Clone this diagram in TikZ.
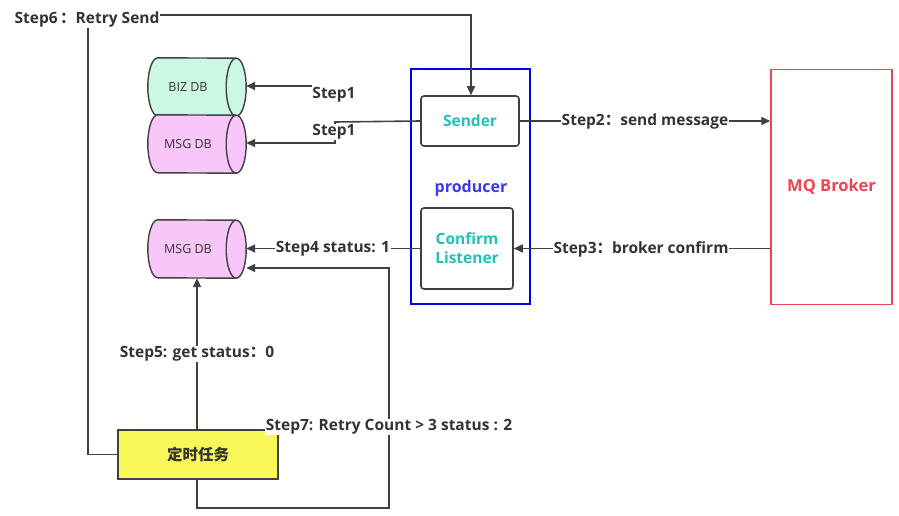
\documentclass[tikz,border=0pt]{standalone}
\usepackage{fontspec}
\setmainfont{Open Sans}
\newfontfamily\cjk{Noto Sans CJK SC}
\newcommand{\fc}{{\cjk ：}}
\usetikzlibrary{arrows.meta}
\definecolor{ln}{HTML}{404040}
\definecolor{txt}{HTML}{333333}
\definecolor{teal}{HTML}{1CC3B6}
\definecolor{mint}{HTML}{CCF7E2}
\definecolor{pinkdb}{HTML}{F8C6F8}
\definecolor{prodblue}{HTML}{0000F0}
\definecolor{prodtxt}{HTML}{3A3AE8}
\definecolor{brk}{HTML}{F04452}
\definecolor{yel}{HTML}{F8F85A}
\tikzset{
  conn/.style={draw=ln, line width=1.6pt, -{Triangle[length=9pt,width=8pt]}},
  lab/.style={fill=white, inner sep=1pt, text=txt, font=\fontsize{15.5}{17}\selectfont\bfseries},
  dbn/.style={rectangle, minimum width=98pt, minimum height=58pt, inner sep=0pt},
  dbt/.style={text=txt, font=\fontsize{12.5}{14}\selectfont},
  boxn/.style={draw=ln, line width=1.6pt, rounded corners=3pt, fill=white, text=teal, font=\fontsize{15.5}{19}\selectfont\bfseries, align=center, inner sep=0pt},
}
\newcommand{\dbshape}[2]{%
  \fill[#2] ([xshift=10pt]#1.north west) arc[start angle=90, end angle=270, x radius=10pt, y radius=29pt]
     -- ([xshift=-10pt]#1.south east) arc[start angle=-90, end angle=90, x radius=10pt, y radius=29pt] -- cycle;
  \draw[ln, line width=1.4pt] ([xshift=10pt]#1.north west) arc[start angle=90, end angle=270, x radius=10pt, y radius=29pt]
     -- ([xshift=-10pt]#1.south east) arc[start angle=-90, end angle=90, x radius=10pt, y radius=29pt] -- cycle;
  \draw[ln, line width=1.4pt] ([xshift=-10pt]#1.south east) arc[start angle=-90, end angle=-270, x radius=10pt, y radius=29pt];
}
\begin{document}
\begin{tikzpicture}[x=1pt,y=-1pt]
\useasboundingbox (0,0) rectangle (899,516);
% producer and broker frames
\node[draw=prodblue, line width=1.5pt, minimum width=119pt, minimum height=235pt, inner sep=0pt] (prod) at (470.5,186.5) {};
\node[text=prodtxt, font=\fontsize{16}{18}\selectfont\bfseries] (prodlab) at (471,188) {producer};
\node[draw=brk, line width=1.5pt, minimum width=121pt, minimum height=235pt, inner sep=0pt, text=brk, font=\fontsize{16.5}{18}\selectfont\bfseries] (broker) at (831.5,187) {MQ Broker};
% inner boxes
\node[boxn, minimum width=98pt, minimum height=50pt] (sender) at (470,121) {Sender};
\node[boxn, minimum width=92pt, minimum height=81pt] (confirm) at (467,248.5) {Confirm\\Listener};
% databases
\node[dbn] (biz) at (197,87) {};
\node[dbn] (msg1) at (197,144) {};
\node[dbn] (msg2) at (197,249) {};
\dbshape{biz}{mint}
\dbshape{msg1}{pinkdb}
\dbshape{msg2}{pinkdb}
\node[dbt] (bizt) at (188,87) {BIZ DB};
\node[dbt] (msg1t) at (188,144) {MSG DB};
\node[dbt] (msg2t) at (188,249) {MSG DB};
% task
\node[draw=ln, line width=1.6pt, fill=yel, minimum width=160pt, minimum height=49pt, inner sep=0pt, font=\cjk\fontsize{15.5}{17}\selectfont\bfseries, text=txt] (task) at (198,454.5) {定时任务};
% Step1
\coordinate (s1a) at (312,86);
\draw[conn] (s1a) -- (s1a -| biz.east);
\node[lab, fill=none] (l1a) at (334,95) {Step1};
\draw[conn] (sender.west) -- (335,122) -- (335,143) -- (335,143 -| msg1.east);
\node[lab] (l1b) at (334,132) {Step1};
% Step2
\draw[conn] (sender.east) -- (sender.east -| broker.west);
\node[lab] (l2) at (645,121) {Step2\fc send message};
% Step3
\draw[conn] (confirm.east -| broker.west) -- (confirm.east);
\node[lab] (l3) at (641,249) {Step3\fc broker confirm};
% Step4
\draw[conn] (confirm.west) -- (confirm.west -| msg2.east);
\node[lab] (l4) at (333,249) {Step4 status: 1};
% Step5
\draw[conn] (task.north -| msg2.south) -- (msg2.south);
\node[lab] (l5) at (197,354) {Step5: get status\fc 0};
% Step6
\draw[conn] (task.west) -- (88,454.5) -- (88,15) -- (471,15) -- (sender.north -| 471,0);
\node[lab] (l6) at (87,19) {Step6\,\fc Retry Send};
% Step7
\draw[conn] (task.south -| msg2.south) -- (197,508) -- (389,508) -- (389,268) -- (389,268 -| msg2.east);
\node[lab] (l7) at (389,427) {Step7: Retry Count > 3 status : 2};
\end{tikzpicture}
\end{document}
